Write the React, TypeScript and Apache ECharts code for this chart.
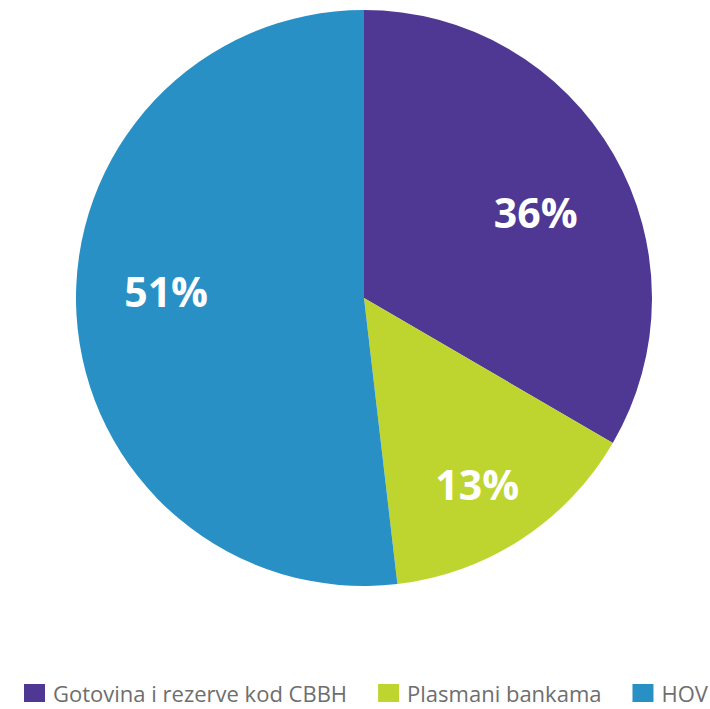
import React, { useEffect, useRef } from "react";
import * as echarts from "echarts";

const categories = ["Gotovina i rezerve kod CBBH", "Plasmani bankama", "HOV"];
const shares = [33.4, 14.75, 51.85];
const labelValues = [36, 13, 51];
const colors = ["#4f3893", "#bed530", "#2990c6"];
// small visual nudges of the percentage labels (dx, dy)
const labelNudge = [
  [-12, 0],
  [21, 5],
  [5, -13],
];

export default function App() {
  const ref = useRef<HTMLDivElement>(null);
  useEffect(() => {
    document.body.style.margin = "0";
    const chart = echarts.init(ref.current!, null, { renderer: "svg" });
    const data = categories.map((name, i) => ({
      name,
      value: shares[i],
      itemStyle: { color: colors[i] },
    }));
    chart.setOption({
      animation: false,
      legend: {
        data: categories,
        left: 19,
        top: 677,
        width: 691,
        icon: "rect",
        itemWidth: 21,
        itemHeight: 18,
        itemGap: 31,
        textStyle: {
          color: "#6e6e6e",
          fontSize: 22,
          lineHeight: 22,
          fontFamily: "Open Sans",
          padding: [0, 0, 0, 3],
        },
      },
      series: [
        {
          type: "pie",
          center: [364, 298],
          radius: [0, 288],
          startAngle: 90,
          clockwise: true,
          label: { show: false },
          labelLine: { show: false },
          emphasis: { disabled: true },
          data,
        },
        {
          type: "pie",
          center: [364, 298],
          radius: [0, 400],
          startAngle: 90,
          clockwise: true,
          silent: true,
          legendHoverLink: false,
          itemStyle: { color: "transparent" },
          label: {
            show: true,
            position: "inside",
            formatter: (p: any) => p.value + "%",
            color: "#ffffff",
            fontSize: 41,
            fontWeight: "bold",
            fontFamily: "Open Sans",
          },
          labelLayout: (p: any) => ({ dx: labelNudge[p.dataIndex][0], dy: labelNudge[p.dataIndex][1] }),
          labelLine: { show: false },
          emphasis: { disabled: true },
          data: categories.map((name, i) => ({ name: name + " ", value: labelValues[i] })),
        },
      ],
    });
    return () => chart.dispose();
  }, []);
  return <div ref={ref} style={{ width: 710, height: 709 }} />;
}
